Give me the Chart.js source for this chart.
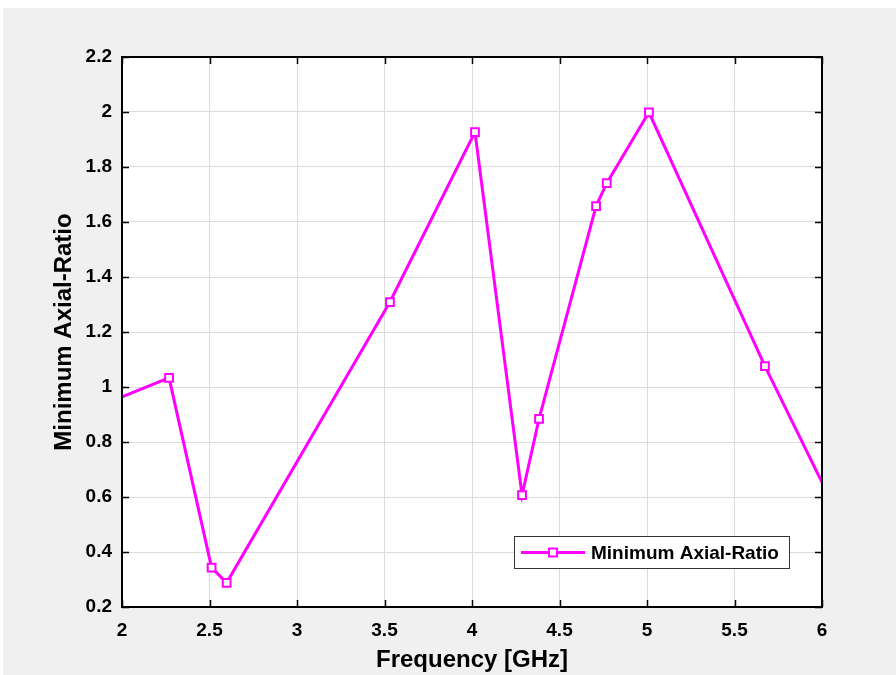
<!DOCTYPE html>
<html><head><meta charset="utf-8">
<script src="https://cdn.jsdelivr.net/npm/chart.js@4/dist/chart.umd.min.js"></script>
<style>html,body{margin:0;padding:0;background:#fff;}#c{display:block;}</style>
</head><body>
<canvas id="c" width="896" height="675"></canvas>
<script>
const frequencies = [2.0, 2.269, 2.512, 2.598, 3.531, 4.017, 4.286, 4.383, 4.709, 4.770, 5.011, 5.674, 6.0];
const axialRatio  = [0.964, 1.033, 0.343, 0.288, 1.309, 1.927, 0.607, 0.884, 1.658, 1.741, 1.999, 1.076, 0.653];
const showMarker  = [false, true, true, true, true, true, true, true, true, true, true, true, false];
const xTicks = [2, 2.5, 3, 3.5, 4, 4.5, 5, 5.5, 6];
const yTicks = [0.2, 0.4, 0.6, 0.8, 1, 1.2, 1.4, 1.6, 1.8, 2, 2.2];
const seriesLabel = 'Minimum Axial-Ratio';
const xTitle = 'Frequency [GHz]';
const yTitle = 'Minimum Axial-Ratio';

const FONT = '"Liberation Sans", Arial, Helvetica, sans-serif';
const MAG = '#ff00ff';

const bgPlugin = {
  id: 'bg',
  beforeDraw(chart) {
    const ctx = chart.ctx;
    ctx.save();
    ctx.fillStyle = '#ffffff';
    ctx.fillRect(0, 0, chart.width, chart.height);
    ctx.fillStyle = '#f0f0f0';
    ctx.fillRect(3, 8, chart.width - 3, chart.height - 8);
    const a = chart.chartArea;
    ctx.fillStyle = '#ffffff';
    ctx.fillRect(a.left, a.top, a.right - a.left, a.bottom - a.top);
    ctx.restore();
  },
  afterDraw(chart) {
    const ctx = chart.ctx, a = chart.chartArea;
    const xs = chart.scales.x, ys = chart.scales.y;
    ctx.save();
    ctx.strokeStyle = '#000';
    ctx.lineWidth = 2;
    ctx.strokeRect(a.left, a.top, a.right - a.left, a.bottom - a.top);
    ctx.lineWidth = 1.5;
    const L = 7;
    ctx.beginPath();
    xTicks.forEach(v => {
      const px = Math.round(xs.getPixelForValue(v)) + 0.5;
      ctx.moveTo(px, a.bottom); ctx.lineTo(px, a.bottom - L);
      ctx.moveTo(px, a.top); ctx.lineTo(px, a.top + L);
    });
    yTicks.forEach(v => {
      const py = Math.round(ys.getPixelForValue(v)) + 0.5;
      ctx.moveTo(a.left, py); ctx.lineTo(a.left + L, py);
      ctx.moveTo(a.right, py); ctx.lineTo(a.right - L, py);
    });
    ctx.stroke();

    // legend
    const bx = 514, by = 536, bw = 275, bh = 32;
    ctx.fillStyle = '#fff';
    ctx.fillRect(bx, by, bw, bh);
    ctx.strokeStyle = '#333';
    ctx.lineWidth = 1;
    ctx.strokeRect(bx + 0.5, by + 0.5, bw, bh);
    const ly = by + bh / 2 + 0.5;
    ctx.strokeStyle = MAG;
    ctx.lineWidth = 3;
    ctx.beginPath(); ctx.moveTo(521, ly); ctx.lineTo(585, ly); ctx.stroke();
    ctx.fillStyle = '#fff';
    ctx.lineWidth = 2;
    ctx.fillRect(549, ly - 4, 8, 8);
    ctx.strokeRect(549, ly - 4, 8, 8);
    ctx.fillStyle = '#000';
    ctx.font = 'bold 19px ' + FONT;
    ctx.textBaseline = 'middle';
    ctx.textAlign = 'left';
    ctx.fillText(seriesLabel, 591, ly + 1);
    ctx.restore();
  }
};

const points = frequencies.map((f, i) => ({x: f, y: axialRatio[i]}));

new Chart(document.getElementById('c'), {
  type: 'scatter',
  data: {
    datasets: [{
      label: seriesLabel,
      data: points,
      showLine: true,
      borderColor: MAG,
      borderWidth: 3,
      backgroundColor: '#ffffff',
      pointStyle: 'rect',
      pointRadius: showMarker.map(s => s ? 5.5 : 0),
      pointBorderWidth: 2,
      pointBorderColor: MAG,
      pointBackgroundColor: '#ffffff',
      pointHoverRadius: showMarker.map(s => s ? 5.5 : 0),
      clip: 0
    }]
  },
  options: {
    responsive: false,
    animation: false,
    devicePixelRatio: 1,
    layout: {padding: {left: 50, right: 74, top: 57, bottom: 0}},
    plugins: {legend: {display: false}, tooltip: {enabled: false}},
    scales: {
      x: {
        type: 'linear', min: 2, max: 6,
        afterBuildTicks: s => { s.ticks = xTicks.map(v => ({value: v})); },
        afterFit: s => { s.height = 68; },
        grid: {color: '#dcdcdc', lineWidth: 1, drawTicks: false},
        border: {display: false},
        ticks: {
          color: '#000', padding: 12,
          font: {family: FONT, size: 19, weight: 'bold'},
          callback: v => String(v)
        },
        title: {display: true, text: xTitle, color: '#000',
          font: {family: FONT, size: 24, weight: 'bold'}, padding: {top: 0, bottom: 0}}
      },
      y: {
        type: 'linear', min: 0.2, max: 2.2,
        afterBuildTicks: s => { s.ticks = yTicks.map(v => ({value: v})); },
        afterFit: s => { s.width = 72; },
        grid: {color: '#dcdcdc', lineWidth: 1, drawTicks: false},
        border: {display: false},
        ticks: {
          color: '#000', padding: 10,
          font: {family: FONT, size: 19, weight: 'bold'},
          callback: v => String(Math.round(v * 10) / 10)
        },
        title: {display: true, text: yTitle, color: '#000',
          font: {family: FONT, size: 24, weight: 'bold'}, padding: {top: 0, bottom: 0}}
      }
    }
  },
  plugins: [bgPlugin]
});
</script>
</body></html>
